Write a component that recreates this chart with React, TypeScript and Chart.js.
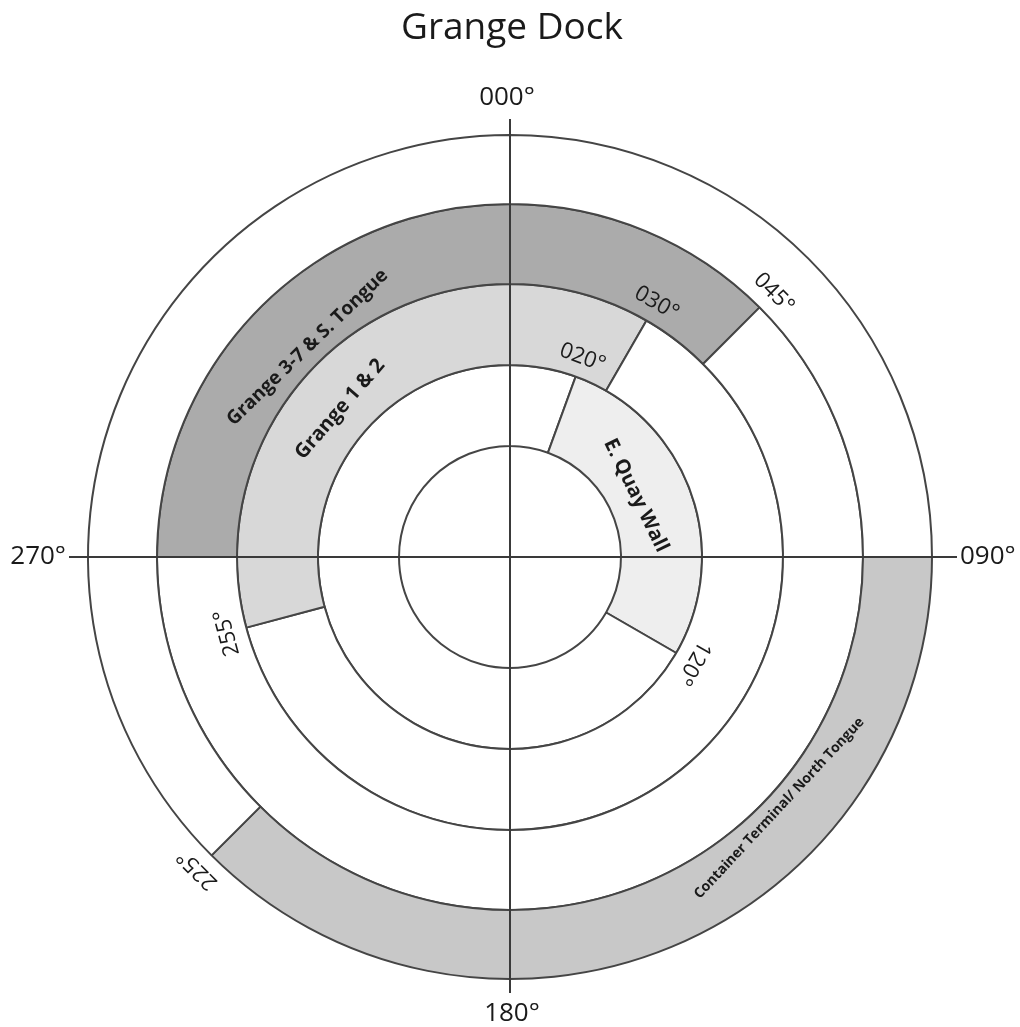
import React, { useEffect, useRef } from 'react';
import { Chart, registerables } from 'chart.js';

Chart.register(...registerables);

// ---- data ----
const chartTitle = 'Grange Dock';
// rings listed from the outermost to the innermost
const berthNames = ['Container Terminal/ North Tongue', 'Grange 3-7 & S. Tongue', 'Grange 1 & 2', 'E. Quay Wall'];
const sectorStart = [90, 270, 255, 20]; // degrees, clockwise from north
const sectorEnd = [225, 45, 30, 120];
const compassLabels = ['000°', '090°', '180°', '270°'];
const compassAngles = [0, 90, 180, 270];

// ---- layout / style (not data) ----
const ringFill = ['#c8c8c8', '#ababab', '#d8d8d8', '#eeeeee'];
const ringWeight = [69, 80, 81, 81];
const berthLabelAngle = [133, 316, 311, 64];
const berthLabelPos = [0.22, 0.23, 0.41, 0.36];
const berthLabelSize = [14, 19, 20, 20];
const berthLabelFlip = [true, false, false, false];

const FONT = '"Open Sans", "DejaVu Sans", sans-serif';
const LINE = '#454545';
const TEXT = '#1a1a1a';

function ringSegments(start: number, end: number) {
  if (start > end) {
    return { values: [end, start - end, 360 - start], colored: [true, false, true] };
  }
  return { values: [start, end - start, 360 - end], colored: [false, true, false] };
}

function pad3(a: number) {
  return String(a).padStart(3, '0') + '°';
}

function drawRotated(ctx: CanvasRenderingContext2D, text: string, cx: number, cy: number, r: number, deg: number, rotDeg: number, font: string) {
  const t = (deg * Math.PI) / 180;
  const x = cx + r * Math.sin(t);
  const y = cy - r * Math.cos(t);
  ctx.save();
  ctx.translate(x, y);
  ctx.rotate((rotDeg * Math.PI) / 180);
  ctx.font = font;
  ctx.fillStyle = TEXT;
  ctx.textAlign = 'center';
  ctx.textBaseline = 'middle';
  ctx.fillText(text, 0, 0);
  ctx.restore();
}

const overlayPlugin = {
  id: 'compassOverlay',
  afterDatasetsDraw(chart: any) {
    const ctx: CanvasRenderingContext2D = chart.ctx;
    const rings = berthNames.map((_, i) => {
      const arc = chart.getDatasetMeta(i).data[0];
      return arc.getProps(['x', 'y', 'innerRadius', 'outerRadius'], true);
    });
    const cx = rings[0].x;
    const cy = rings[0].y;
    const R = rings[0].outerRadius;

    // compass cross
    ctx.save();
    ctx.strokeStyle = '#3a3a3a';
    ctx.lineWidth = 2;
    ctx.beginPath();
    ctx.moveTo(cx, cy - R - 16);
    ctx.lineTo(cx, cy + R + 14);
    ctx.moveTo(cx - R - 19, cy);
    ctx.lineTo(cx + R + 25, cy);
    ctx.stroke();
    ctx.restore();

    // compass labels
    ctx.save();
    ctx.font = `26px ${FONT}`;
    ctx.fillStyle = TEXT;
    compassLabels.forEach((lab, i) => {
      const a = compassAngles[i];
      if (a === 0) {
        ctx.textAlign = 'center';
        ctx.textBaseline = 'middle';
        ctx.fillText(lab, cx - 3, cy - R - 37);
      } else if (a === 180) {
        ctx.textAlign = 'center';
        ctx.textBaseline = 'middle';
        ctx.fillText(lab, cx + 2, cy + R + 35);
      } else if (a === 90) {
        ctx.textAlign = 'left';
        ctx.textBaseline = 'middle';
        ctx.fillText(lab, cx + R + 28, cy);
      } else {
        ctx.textAlign = 'right';
        ctx.textBaseline = 'middle';
        ctx.fillText(lab, cx - R - 22, cy);
      }
    });
    ctx.restore();

    // boundary degree labels
    berthNames.forEach((_, i) => {
      [sectorStart[i], sectorEnd[i]].forEach((a) => {
        if (a % 90 === 0) return;
        drawRotated(ctx, pad3(a), cx, cy, rings[i].outerRadius + 20, a, a, `22px ${FONT}`);
      });
    });

    // berth labels
    berthNames.forEach((name, i) => {
      const ring = rings[i];
      const r = ring.innerRadius + berthLabelPos[i] * (ring.outerRadius - ring.innerRadius);
      const a = berthLabelAngle[i];
      const rot = berthLabelFlip[i] ? a - 180 : a;
      drawRotated(ctx, name, cx, cy, r, a, rot, `bold ${berthLabelSize[i]}px ${FONT}`);
    });

    // title
    ctx.save();
    ctx.font = `37px ${FONT}`;
    ctx.fillStyle = TEXT;
    ctx.textAlign = 'center';
    ctx.textBaseline = 'alphabetic';
    ctx.fillText(chartTitle, cx + 2, 39);
    ctx.restore();
  },
};

export default function App() {
  const ref = useRef<HTMLCanvasElement>(null);

  useEffect(() => {
    document.body.style.margin = '0';
    const datasets = berthNames.map((name, i) => {
      const seg = ringSegments(sectorStart[i], sectorEnd[i]);
      return {
        label: name,
        data: seg.values,
        backgroundColor: seg.colored.map((c) => (c ? ringFill[i] : '#ffffff')),
        borderColor: LINE,
        borderWidth: 2,
        weight: ringWeight[i],
      };
    });
    const chart = new Chart(ref.current as HTMLCanvasElement, {
      type: 'doughnut',
      data: { labels: ['a', 'b', 'c'], datasets },
      options: {
        responsive: false,
        animation: false,
        events: [],
        radius: 422,
        cutout: `${(111 / 422) * 100}%`,
        rotation: 0,
        layout: { padding: { top: 100, bottom: 13, left: 0, right: 0 } },
        plugins: {
          legend: { display: false },
          tooltip: { enabled: false },
          title: { display: false },
        },
      } as any,
      plugins: [overlayPlugin],
    });
    return () => chart.destroy();
  }, []);

  return (
    <canvas
      ref={ref}
      width={1020}
      height={1027}
      style={{ position: 'absolute', left: 0, top: 0, display: 'block', background: '#ffffff' }}
    />
  );
}
